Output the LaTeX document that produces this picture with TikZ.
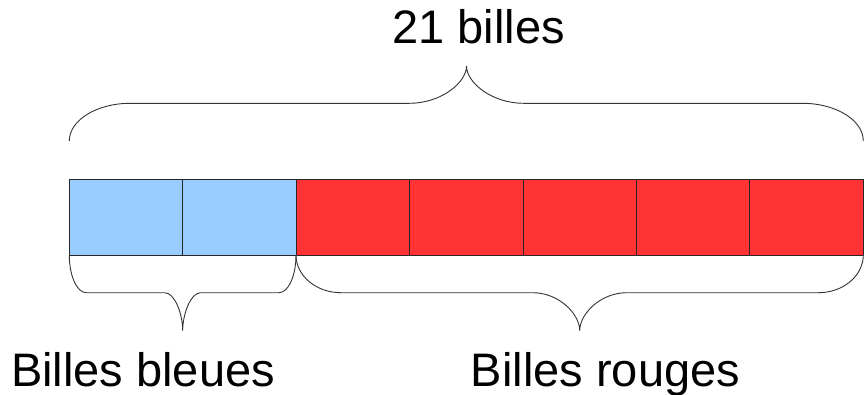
\documentclass[tikz,border=0pt]{standalone}
\usepackage{fontspec}
\setmainfont{Liberation Sans}
\begin{document}
\begin{tikzpicture}[x=1pt,y=-1pt,
  cell/.style={draw=black!85,line width=1pt,minimum width=113.43pt,minimum height=75.5pt,inner sep=0pt,outer sep=0pt,anchor=north west},
  blue cell/.style={cell,fill=bluefill},
  red cell/.style={cell,fill=redfill},
  brace line/.style={draw=black!80,line width=0.9pt},
  label/.style={font=\fontsize{47}{56}\selectfont,anchor=base,inner sep=0pt}]
\definecolor{bluefill}{HTML}{99CCFF}
\definecolor{redfill}{HTML}{FF3333}
\useasboundingbox (0,0) rectangle (864,394);
% cells
\node[blue cell] (c1) at (69.3,179.5) {};
\node[blue cell] (c2) at (c1.north east) {};
\node[red cell] (c3) at (c2.north east) {};
\node[red cell] (c4) at (c3.north east) {};
\node[red cell] (c5) at (c4.north east) {};
\node[red cell] (c6) at (c5.north east) {};
\node[red cell] (c7) at (c6.north east) {};
% generic brace: #1 x0, #2 x1, #3 yEnd, #4 yFlat, #5 yTip, #6 xTip, #7 corner width, #8 middle width
\newcommand\mybrace[8]{%
  \draw[brace line] (#1,#3)
    .. controls (#1,{#3+0.552*(#4-#3)}) and ({#1+#7*0.448},#4) .. ({#1+#7},#4)
    -- ({#6-#8},#4)
    .. controls ({#6-#8*0.448},#4) and (#6,{#4+0.552*(#5-#4)}) .. (#6,#5)
    .. controls (#6,{#4+0.552*(#5-#4)}) and ({#6+#8*0.448},#4) .. ({#6+#8},#4)
    -- ({#2-#7},#4)
    .. controls ({#2-#7*0.448},#4) and (#2,{#3+0.552*(#4-#3)}) .. (#2,#3);}
% top brace
\mybrace{69.3}{863.3}{141}{103.3}{66}{466.5}{61}{57}
% bottom braces
\mybrace{69.3}{296}{255}{292.7}{330.7}{182.7}{17}{18}
\mybrace{296}{863.3}{255}{292.7}{330.7}{579.7}{45}{47}
% labels
\node[label] (t1) at (478.5,43.5) {21 billes};
\node[label] (t2) at (143,386.5) {Billes bleues};
\node[label] (t3) at (605.5,386.5) {Billes rouges};
\end{tikzpicture}
\end{document}
